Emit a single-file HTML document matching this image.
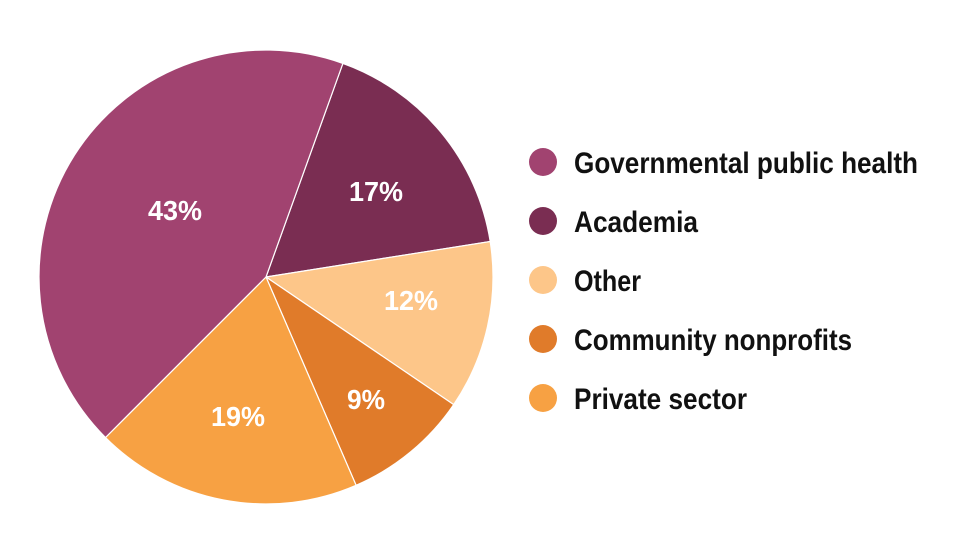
<!DOCTYPE html>
<html><head><meta charset="utf-8"><style>
html,body{margin:0;padding:0;background:#fff;}
body{width:969px;height:551px;overflow:hidden;}
text{font-family:"Liberation Sans Narrow","Liberation Sans",sans-serif;font-weight:bold;}
</style></head><body>
<svg width="969" height="551" viewBox="0 0 969 551" xmlns="http://www.w3.org/2000/svg">
<g stroke="#fff" stroke-width="1.2">
<path d="M266,277 L342.9,63.4 A227,227 0 0 1 490.2,241.5 Z" fill="#7a2d52"/>
<path d="M266,277 L490.2,241.5 A227,227 0 0 1 453.7,404.6 Z" fill="#fdc689"/>
<path d="M266,277 L453.7,404.6 A227,227 0 0 1 356.1,485.3 Z" fill="#e07b2a"/>
<path d="M266,277 L356.1,485.3 A227,227 0 0 1 105.5,437.5 Z" fill="#f7a143"/>
<path d="M266,277 L105.5,437.5 A227,227 0 0 1 342.9,63.4 Z" fill="#a14370"/>
</g>
<g fill="#fff" font-size="28" text-anchor="middle">
<text x="175" y="220" textLength="54" lengthAdjust="spacingAndGlyphs">43%</text>
<text x="376" y="201" textLength="54" lengthAdjust="spacingAndGlyphs">17%</text>
<text x="411" y="310" textLength="54" lengthAdjust="spacingAndGlyphs">12%</text>
<text x="366" y="409" textLength="38" lengthAdjust="spacingAndGlyphs">9%</text>
<text x="238" y="426" textLength="54" lengthAdjust="spacingAndGlyphs">19%</text>
</g>
<circle cx="543" cy="162" r="14" fill="#a14370"/>
<circle cx="543" cy="221" r="14" fill="#7a2d52"/>
<circle cx="543" cy="280" r="14" fill="#fdc689"/>
<circle cx="543" cy="339" r="14" fill="#e07b2a"/>
<circle cx="543" cy="398" r="14" fill="#f7a143"/>
<g fill="#111" font-size="30" lengthAdjust="spacingAndGlyphs">
<text x="574" y="173" textLength="344" lengthAdjust="spacingAndGlyphs">Governmental public health</text>
<text x="574" y="232" textLength="124" lengthAdjust="spacingAndGlyphs">Academia</text>
<text x="574" y="291" textLength="67" lengthAdjust="spacingAndGlyphs">Other</text>
<text x="574" y="350" textLength="278" lengthAdjust="spacingAndGlyphs">Community nonprofits</text>
<text x="574" y="409" textLength="173" lengthAdjust="spacingAndGlyphs">Private sector</text>
</g>
</svg>
</body></html>
